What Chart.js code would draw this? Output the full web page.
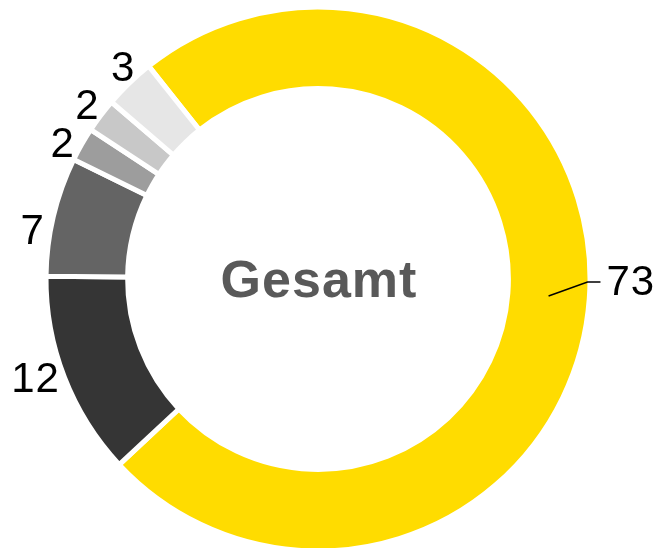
<!DOCTYPE html>
<html>
<head>
<meta charset="utf-8">
<script src="https://cdn.jsdelivr.net/npm/chart.js@4"></script>
<style>
  html, body { margin: 0; padding: 0; background: #fff; }
  #wrap { width: 659px; height: 548px; }
</style>
</head>
<body>
<div id="wrap"><canvas id="chart" width="659" height="548"></canvas></div>
<script>
const labels = ["A", "B", "C", "D", "E", "F"];
const values = [73, 12, 7, 2, 2, 3];
const colors = ["#FFDC00", "#353535", "#646464", "#9D9D9D", "#C8C8C8", "#E6E6E6"];
const centerText = "Gesamt";

// draws the numbers round the ring and the title in the middle
const ringLabels = {
  id: "ringLabels",
  afterDatasetsDraw(chart, args, opts) {
    const ctx = chart.ctx;
    const meta = chart.getDatasetMeta(0);
    const font = "42px 'Liberation Sans', Arial, sans-serif";
    ctx.save();
    meta.data.forEach((arc, i) => {
      const p = arc.getProps(["x", "y", "startAngle", "endAngle", "outerRadius", "innerRadius"], true);
      const mid = (p.startAngle + p.endAngle) / 2;
      const shift = (opts.nudge[i] || 0) * Math.PI / 180;
      const ang = mid + shift;
      const outer = p.outerRadius - 2.5;
      ctx.font = font;
      ctx.fillStyle = "#000";
      ctx.letterSpacing = "1px";
      ctx.textBaseline = "middle";
      if (Math.cos(mid) > 0) {
        const mr = (p.outerRadius + p.innerRadius) / 2;
        const sx = p.x + Math.cos(mid) * mr, sy = p.y + Math.sin(mid) * mr;
        const ex = p.x + Math.cos(ang) * outer, ey = p.y + Math.sin(ang) * outer;
        ctx.strokeStyle = "#000";
        ctx.lineWidth = 1.5;
        ctx.beginPath();
        ctx.moveTo(sx, sy);
        ctx.lineTo(ex, ey);
        ctx.lineTo(ex + 13, ey);
        ctx.stroke();
        ctx.textAlign = "left";
        ctx.fillText(String(values[i]), ex + 19, ey + 1);
      } else {
        const r = outer + 10;
        ctx.textAlign = "right";
        ctx.fillText(String(values[i]), p.x + Math.cos(ang) * r + 2.5, p.y + Math.sin(ang) * r);
      }
    });
    const c = meta.data[0];
    ctx.font = "bold 52px 'Liberation Sans', Arial, sans-serif";
    ctx.letterSpacing = "1px";
    ctx.fillStyle = "#595959";
    ctx.textAlign = "center";
    ctx.textBaseline = "alphabetic";
    ctx.fillText(centerText, c.x + 1, c.y + 18);
    ctx.restore();
  }
};

new Chart(document.getElementById("chart").getContext("2d"), {
  type: "doughnut",
  data: {
    labels: labels,
    datasets: [{
      data: values,
      backgroundColor: colors,
      borderColor: "#fff",
      borderWidth: 5
    }]
  },
  options: {
    responsive: false,
    animation: false,
    rotation: -38.5,
    radius: 272,
    cutout: "70%",
    layout: { padding: { left: 0, right: 23, top: 10, bottom: 0 } },
    plugins: {
      legend: { display: false },
      tooltip: { enabled: false },
      ringLabels: { nudge: [-3.6, 0, -3.7, -1.2, 0.8, 2.5] }
    }
  },
  plugins: [ringLabels]
});
</script>
</body>
</html>
